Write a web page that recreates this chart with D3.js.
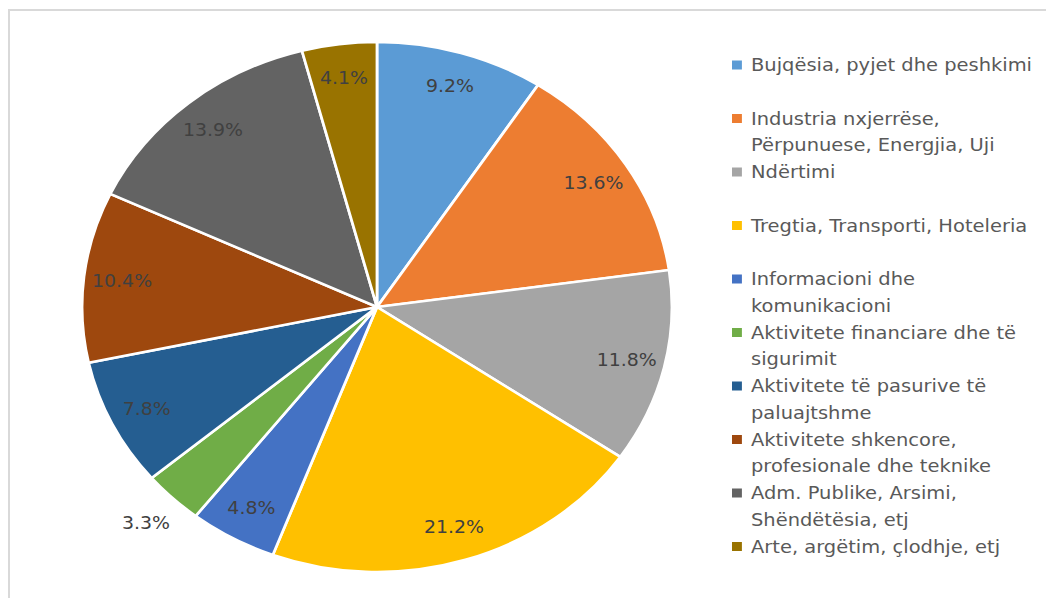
<!DOCTYPE html>
<html lang="en">
<head>
<meta charset="utf-8">
<script src="https://d3js.org/d3.v7.min.js"></script>
<style>
  body { margin: 0; background: white; }
  text { font-family: "DejaVu Sans", sans-serif; }
</style>
</head>
<body>
<div id="my_dataviz"></div>
<script>
// categories and shares (%)
var categories = [
  "Bujqësia, pyjet dhe peshkimi",
  "Industria nxjerrëse, Përpunuese, Energjia, Uji",
  "Ndërtimi",
  "Tregtia, Transporti, Hoteleria",
  "Informacioni dhe komunikacioni",
  "Aktivitete financiare dhe të sigurimit",
  "Aktivitete të pasurive të paluajtshme",
  "Aktivitete shkencore, profesionale dhe teknike",
  "Adm. Publike, Arsimi, Shëndëtësia, etj",
  "Arte, argëtim, çlodhje, etj"
]
var values = [9.2, 13.6, 11.8, 21.2, 4.8, 3.3, 7.8, 10.4, 13.9, 4.1]
var colors = ["#5B9BD5", "#ED7D31", "#A5A5A5", "#FFC000", "#4472C4",
              "#70AD47", "#255E91", "#9E480E", "#636363", "#997300"]

var width = 1046, height = 598
// the picture is a bit wider than tall, so everything is stretched in x
var sx = 1.113
var cx = 377, cy = 307, radius = 265

var svg = d3.select("#my_dataviz")
  .append("svg")
    .attr("width", width)
    .attr("height", height)

// chart area border
svg.append("path")
  .attr("d", "M9," + height + "V10H" + width)
  .attr("fill", "none")
  .attr("stroke", "#d9d9d9")
  .attr("stroke-width", 2)

var g = svg.append("g")
  .attr("transform", "scale(" + sx + ",1)")

var color = d3.scaleOrdinal().domain(categories).range(colors)

var pie = d3.pie().sort(null).value(function(d) { return d.value })
var data_ready = pie(categories.map(function(c, i) { return {key: c, value: values[i]} }))

var arc = d3.arc().innerRadius(0).outerRadius(radius)
var labelIn = d3.arc().innerRadius(radius * 0.87).outerRadius(radius * 0.87)
var labelOut = d3.arc().innerRadius(radius * 1.13).outerRadius(radius * 1.13)

var pieG = g.append("g")
  .attr("transform", "translate(" + (cx / sx) + "," + cy + ")")

pieG.selectAll("path")
  .data(data_ready)
  .enter()
  .append("path")
    .attr("d", arc)
    .attr("fill", function(d) { return color(d.data.key) })
    .attr("stroke", "white")
    .style("stroke-width", "2.5px")

pieG.selectAll("text")
  .data(data_ready)
  .enter()
  .append("text")
    .attr("transform", function(d) {
      var a = d.data.value < 4 ? labelOut : labelIn
      return "translate(" + a.centroid(d) + ")"
    })
    .attr("text-anchor", "middle")
    .attr("dy", "0.35em")
    .attr("font-size", "17px")
    .attr("fill", "#404040")
    .text(function(d) { return d.data.value.toFixed(1) + "%" })

// legend: each entry takes two line slots
var lineH = 26.75, legY = 65, maxW = 288 / sx
var leg = g.append("g")

categories.forEach(function(c, i) {
  var y = legY + i * 2 * lineH
  leg.append("rect")
    .attr("x", 732 / sx)
    .attr("y", y - 4.5)
    .attr("width", 9 / sx * 1.1)
    .attr("height", 9)
    .attr("fill", colors[i])

  var t = leg.append("text")
    .attr("x", 751 / sx)
    .attr("y", y)
    .attr("font-size", "17.5px")
    .attr("fill", "#595959")
  // simple word wrap
  var words = c.split(" "), line = [], lineNo = 0
  var tspan = t.append("tspan").attr("x", 751 / sx).attr("dy", "0.35em")
  words.forEach(function(w) {
    line.push(w)
    tspan.text(line.join(" "))
    if (tspan.node().getComputedTextLength() > maxW && line.length > 1) {
      line.pop()
      tspan.text(line.join(" "))
      line = [w]
      lineNo++
      tspan = t.append("tspan").attr("x", 751 / sx)
        .attr("y", y + lineNo * lineH).attr("dy", "0.35em").text(w)
    }
  })
})
</script>
</body>
</html>
